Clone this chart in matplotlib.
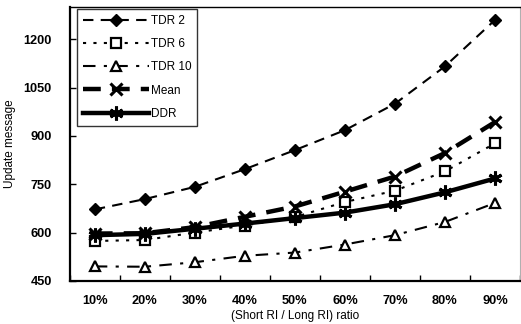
import matplotlib
matplotlib.use("Agg")
import matplotlib.pyplot as plt
import numpy as np

plt.rcParams["font.family"] = ["Liberation Sans", "DejaVu Sans"]

ratios = ["10%", "20%", "30%", "40%", "50%", "60%", "70%", "80%", "90%"]
tdr2 = [672, 704, 742, 797, 856, 918, 1000, 1116, 1260]
tdr6 = [574, 577, 600, 622, 648, 695, 730, 790, 877]
tdr10 = [495, 494, 508, 528, 538, 563, 592, 633, 692]
mean = [597, 598, 617, 649, 681, 727, 774, 847, 943]
ddr = [592, 596, 612, 628, 645, 662, 688, 725, 768]
y_ticks = [450, 600, 750, 900, 1050, 1200]

x = np.arange(len(ratios))

fig = plt.figure(figsize=(5.21, 3.24), dpi=100)
ax = fig.add_axes([0.134, 0.133, 0.864, 0.845])

ax.plot(x, tdr2, color="black", lw=1.5, dashes=(5, 3.5), marker="D", ms=6,
        mfc="black", mec="black", label="TDR 2")
ax.plot(x, tdr6, color="black", lw=1.5, dashes=(1.5, 3.5), marker="s", ms=7,
        mfc="white", mec="black", mew=1.6, label="TDR 6")
ax.plot(x, tdr10, color="black", lw=1.5, dashes=(6, 4, 1.5, 4), marker="^", ms=7,
        mfc="white", mec="black", mew=1.6, label="TDR 10")
ax.plot(x, mean, color="black", lw=3.2, dashes=(4, 2.5), marker="x", ms=9,
        mew=2.2, label="Mean")
ax.plot(x, ddr, color="black", lw=3.2, marker=(6, 2, 0), ms=10, mew=2.2,
        label="DDR")

ax.set_xlim(-0.5, len(ratios) - 0.5)
ax.set_ylim(450, 1300)
ax.set_xticks(x)
ax.set_xticklabels(ratios, fontsize=9.2, fontweight="bold")
ax.set_xticks(np.arange(len(ratios) + 1) - 0.5, minor=True)
ax.set_yticks(y_ticks)
ax.set_yticklabels([str(v) for v in y_ticks], fontsize=9.2, fontweight="bold")
ax.tick_params(axis="x", which="major", length=0, pad=10)
ax.tick_params(axis="x", which="minor", length=4, direction="in", width=1)
ax.tick_params(axis="y", direction="in", length=4, width=1, pad=13)

ax.set_ylabel("Update message", fontsize=8.5)
ax.yaxis.set_label_coords(-0.12, 0.5)
ax.set_xlabel("(Short RI / Long RI) ratio", fontsize=8.5, labelpad=2)

for side in ("left", "bottom"):
    ax.spines[side].set_linewidth(1.6)
ax.spines["top"].set_linewidth(1.0)
ax.spines["right"].set_color("#b0b0b0")
ax.spines["right"].set_linewidth(0.8)

leg = ax.legend(loc="upper left", bbox_to_anchor=(0.0156, 0.993), fontsize=8.5,
                handlelength=5.6, labelspacing=0.95, borderpad=0.5,
                handletextpad=0.15, frameon=True, fancybox=False,
                borderaxespad=0)
leg.get_frame().set_edgecolor("black")
leg.get_frame().set_linewidth(1.0)

fig.savefig("out.png", dpi=100)
